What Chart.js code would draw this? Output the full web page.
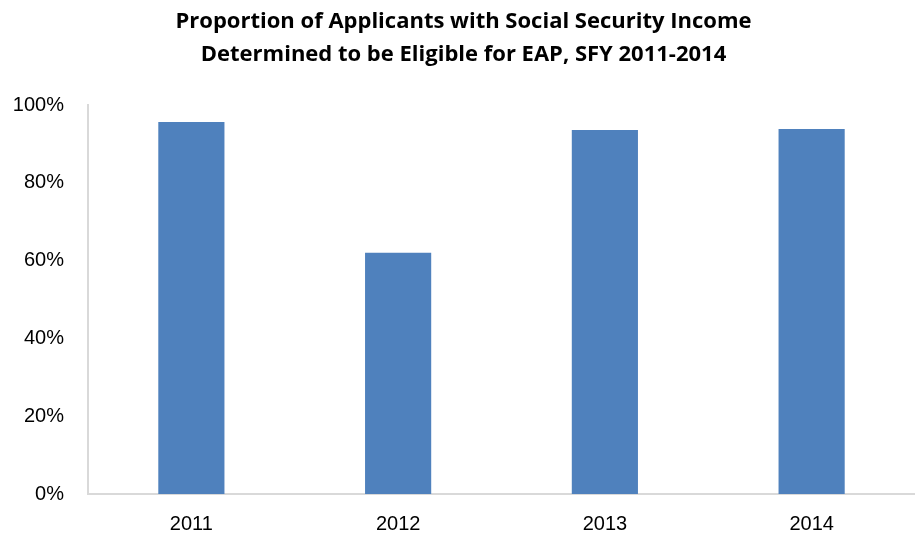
<!DOCTYPE html>
<html>
<head>
<meta charset="utf-8">
<script src="https://cdn.jsdelivr.net/npm/chart.js@4"></script>
<style>
  html, body { margin: 0; padding: 0; background: #fff; }
</style>
</head>
<body>
<canvas id="myChart" width="915" height="538"></canvas>
<script>
var years = ['2011', '2012', '2013', '2014'];
var eligibleShare = [95.6, 62.0, 93.6, 93.8];
var yTicks = [0, 20, 40, 60, 80, 100];

var ctx = document.getElementById('myChart').getContext('2d');
var myChart = new Chart(ctx, {
  type: 'bar',
  data: {
    labels: years,
    datasets: [{
      data: eligibleShare,
      backgroundColor: '#4F81BD',
      borderWidth: 0,
      categoryPercentage: 1,
      barPercentage: 0.32
    }]
  },
  options: {
    responsive: false,
    animation: false,
    layout: { padding: { left: 12, right: 0, top: 5, bottom: 0 } },
    scales: {
      y: {
        min: 0,
        max: 100,
        afterBuildTicks: function (axis) {
          axis.ticks = yTicks.map(function (v) { return { value: v }; });
        },
        afterFit: function (axis) { axis.width = 76; },
        ticks: {
          color: '#000',
          font: { family: 'Liberation Sans, sans-serif', size: 20 },
          padding: 24,
          callback: function (v) { return v + '%'; }
        },
        grid: { display: false, drawTicks: false },
        border: { color: '#D9D9D9', width: 2 }
      },
      x: {
        afterFit: function (axis) { axis.height = 44; },
        ticks: {
          color: '#000',
          font: { family: 'Liberation Sans, sans-serif', size: 20 },
          padding: 18
        },
        grid: { display: false, drawTicks: false },
        border: { color: '#D9D9D9', width: 2 }
      }
    },
    plugins: {
      legend: { display: false },
      tooltip: { enabled: false },
      title: {
        display: true,
        text: ['Proportion of Applicants with Social Security Income',
               'Determined to be Eligible for EAP, SFY 2011-2014'],
        color: '#000',
        font: { family: 'Open Sans, sans-serif', size: 22, weight: 'bold', lineHeight: 1.5 },
        padding: { top: 0, bottom: 34 }
      }
    }
  }
});
</script>
</body>
</html>
